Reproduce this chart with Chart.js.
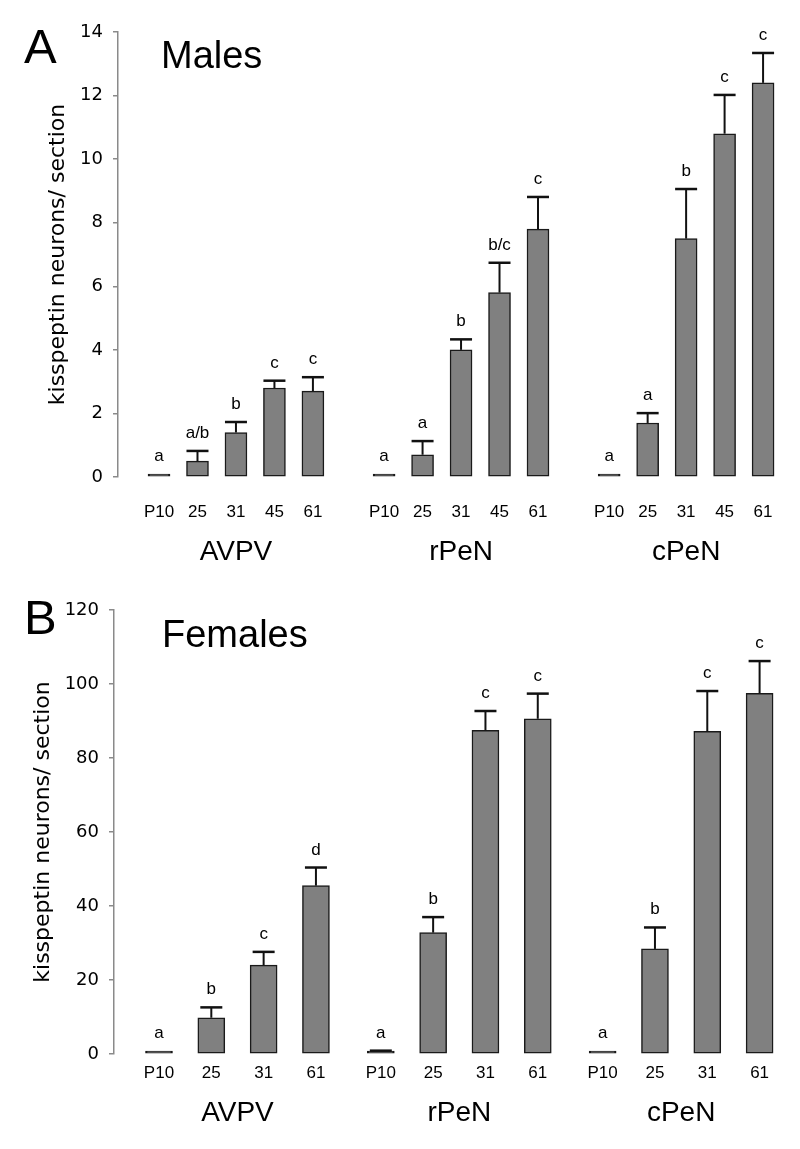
<!DOCTYPE html>
<html>
<head>
<meta charset="utf-8">
<script src="https://cdn.jsdelivr.net/npm/chart.js@4.4.1/dist/chart.umd.min.js"></script>
<style>
  html, body { margin: 0; padding: 0; background: #fff; }
  #wrap { position: relative; width: 800px; height: 1149px; }
  canvas { position: absolute; left: 0; }
  #chartA { top: 0; }
  #chartB { top: 575px; }
</style>
</head>
<body>
<div id="wrap">
  <canvas id="chartA" width="800" height="575"></canvas>
  <canvas id="chartB" width="800" height="574"></canvas>
</div>
<script>
// regions (group labels under each panel)
var regions = ['AVPV', 'rPeN', 'cPeN'];

// Panel A - males
var maleAges = ['P10', '25', '31', '45', '61'];
var maleAVPV = [0.03, 0.5, 1.4, 2.8, 2.7];
var maleRPeN = [0.03, 0.7, 4.0, 5.8, 7.8];
var maleCPeN = [0.03, 1.7, 7.5, 10.8, 12.4];
var maleErrAVPV = [0, 0.32, 0.33, 0.23, 0.44];
var maleErrRPeN = [0, 0.43, 0.33, 0.94, 1.01];
var maleErrCPeN = [0, 0.31, 1.56, 1.22, 0.94];
var maleLetAVPV = ['a', 'a/b', 'b', 'c', 'c'];
var maleLetRPeN = ['a', 'a', 'b', 'b/c', 'c'];
var maleLetCPeN = ['a', 'a', 'b', 'c', 'c'];
var maleTicks = [0, 2, 4, 6, 8, 10, 12, 14];

// Panel B - females
var femaleAges = ['P10', '25', '31', '61'];
var femaleAVPV = [0.3, 9.8, 24.0, 45.5];
var femaleRPeN = [0.5, 32.8, 87.5, 90.6];
var femaleCPeN = [0.3, 28.4, 87.2, 97.5];
var femaleErrAVPV = [0, 2.8, 3.6, 4.9];
var femaleErrRPeN = [0.4, 4.2, 5.2, 6.8];
var femaleErrCPeN = [0, 5.8, 10.9, 8.7];
var femaleLetAVPV = ['a', 'b', 'c', 'd'];
var femaleLetRPeN = ['a', 'b', 'c', 'c'];
var femaleLetCPeN = ['a', 'b', 'c', 'c'];
var femaleTicks = [0, 20, 40, 60, 80, 100, 120];

Chart.defaults.font.family = '"Liberation Sans", Arial, sans-serif';

function buildPanel(canvasId, p) {
  var positions = [], values = [], errs = [], letters = [], tickLabels = [], groupCenters = [];
  p.groups.forEach(function (g, gi) {
    g.forEach(function (v, i) {
      positions.push(gi * p.stride + i);
      values.push(v);
      errs.push(p.errors[gi][i]);
      letters.push(p.letters[gi][i]);
      tickLabels.push(p.ages[i]);
    });
    groupCenters.push(gi * p.stride + (g.length - 1) / 2);
  });
  var yMax = p.yTicks[p.yTicks.length - 1];

  var marks = {
    id: 'marks',
    afterDatasetsDraw: function (chart) {
      var ctx = chart.ctx, y = chart.scales.y;
      var bars = chart.getDatasetMeta(0).data;
      ctx.save();
      bars.forEach(function (bar, i) {
        var top = bar.y;
        if (errs[i] > 0) {
          var ey = y.getPixelForValue(values[i] + errs[i]);
          ctx.strokeStyle = '#111';
          ctx.lineWidth = 2;
          ctx.beginPath(); ctx.moveTo(bar.x, bar.y); ctx.lineTo(bar.x, ey); ctx.stroke();
          ctx.lineWidth = 2.5;
          ctx.beginPath(); ctx.moveTo(bar.x - 11, ey); ctx.lineTo(bar.x + 11, ey); ctx.stroke();
          top = Math.min(top, ey);
        }
        ctx.fillStyle = '#000';
        ctx.font = '17px "Liberation Sans", Arial';
        ctx.textAlign = 'center';
        ctx.textBaseline = 'alphabetic';
        ctx.fillText(letters[i], bar.x, top - 13);
      });
      ctx.textAlign = 'left';
      ctx.font = '49px "Liberation Sans", Arial';
      ctx.fillText(p.panel, p.panelX, p.panelY);
      ctx.font = '38px "Liberation Sans", Arial';
      ctx.fillText(p.title, p.titleX, p.titleY);
      ctx.restore();
    }
  };

  return new Chart(document.getElementById(canvasId), {
    type: 'bar',
    data: {
      datasets: [{
        data: positions.map(function (x, i) { return { x: x, y: values[i] }; }),
        // near-zero bars show up as a dark dash
        backgroundColor: function (c) { return c.raw && c.raw.y < yMax * 0.01 ? '#1a1a1a' : '#808080'; },
        borderColor: '#1a1a1a',
        borderWidth: 1.5,
        borderSkipped: false,
        barThickness: p.barWidth,
        minBarLength: 3,
        clip: false
      }]
    },
    options: {
      responsive: false,
      animation: false,
      layout: { padding: { left: p.padLeft, top: p.padTop, right: 20, bottom: 0 } },
      plugins: { legend: { display: false }, tooltip: { enabled: false } },
      scales: {
        x: {
          type: 'linear', offset: false, weight: 0,
          min: p.xMin, max: p.xMax,
          grid: { display: false, drawTicks: false },
          border: { display: false },
          ticks: {
            autoSkip: false, maxRotation: 0, padding: p.tickPad, color: '#000',
            font: { size: 17 },
            callback: function (v, i) { return tickLabels[i]; }
          },
          afterBuildTicks: function (s) { s.ticks = positions.map(function (v) { return { value: v }; }); },
          afterFit: function (s) { s.height = p.tickH; }
        },
        xg: {
          type: 'linear', position: 'bottom', offset: false, weight: 1,
          min: p.xMin, max: p.xMax,
          grid: { display: false, drawTicks: false },
          border: { display: false },
          ticks: {
            autoSkip: false, maxRotation: 0, padding: p.groupPad, color: '#000',
            font: { size: 28 },
            callback: function (v, i) { return regions[i]; }
          },
          afterBuildTicks: function (s) { s.ticks = groupCenters.map(function (v) { return { value: v }; }); },
          afterFit: function (s) { s.height = p.groupH; }
        },
        y: {
          min: 0, max: yMax,
          ticks: { stepSize: p.yTicks[1] - p.yTicks[0], padding: 10, color: '#000',
                   font: { family: '"DejaVu Sans", Verdana, sans-serif', size: 18 } },
          grid: { drawOnChartArea: false, tickLength: 5, color: '#8a8a8a', lineWidth: 1.5 },
          border: { color: '#8a8a8a', width: 1.5 },
          title: { display: true, text: 'kisspeptin neurons/ section', color: '#000', padding: 0,
                   font: { family: '"DejaVu Sans", Verdana, sans-serif', size: 22 } },
          afterFit: function (s) { s.width = p.axisLeft - p.padLeft; }
        }
      }
    },
    plugins: [marks]
  });
}

buildPanel('chartA', {
  groups: [maleAVPV, maleRPeN, maleCPeN],
  errors: [maleErrAVPV, maleErrRPeN, maleErrCPeN],
  letters: [maleLetAVPV, maleLetRPeN, maleLetCPeN],
  ages: maleAges, yTicks: maleTicks,
  stride: 5.85, xMin: -1.066, xMax: 16.14, barWidth: 22,
  padLeft: 45, padTop: 32, axisLeft: 118,
  tickH: 50, tickPad: 25, groupH: 48, groupPad: 8,
  panel: 'A', panelX: 24, panelY: 63, title: 'Males', titleX: 161, titleY: 68
});

buildPanel('chartB', {
  groups: [femaleAVPV, femaleRPeN, femaleCPeN],
  errors: [femaleErrAVPV, femaleErrRPeN, femaleErrCPeN],
  letters: [femaleLetAVPV, femaleLetRPeN, femaleLetCPeN],
  ages: femaleAges, yTicks: femaleTicks,
  stride: 4.24, xMin: -0.86, xMax: 11.87, barWidth: 27,
  padLeft: 30, padTop: 35, axisLeft: 114,
  tickH: 40, tickPad: 9, groupH: 55, groupPad: 2,
  panel: 'B', panelX: 24, panelY: 59, title: 'Females', titleX: 162, titleY: 72
});
</script>
</body>
</html>
